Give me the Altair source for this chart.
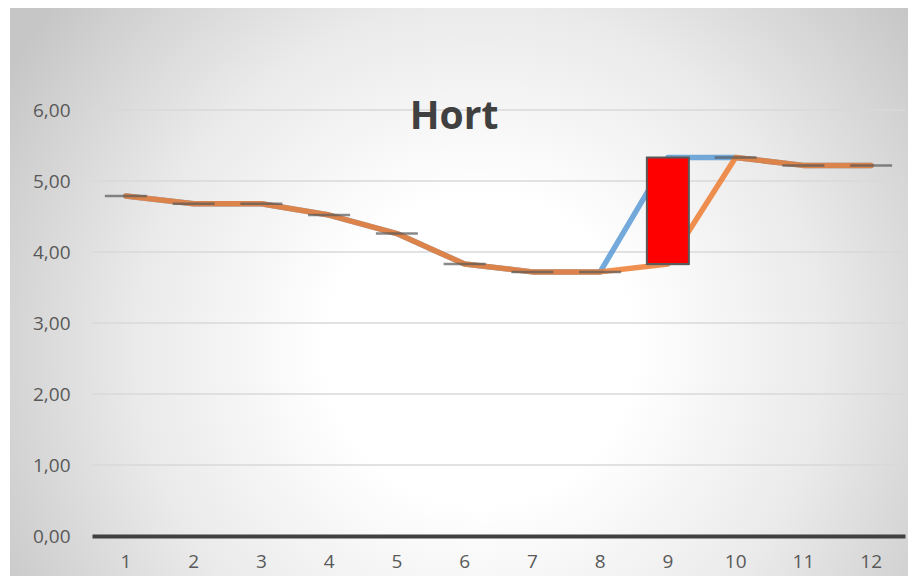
import altair as alt
import pandas as pd

# ---- data ----
months = [1, 2, 3, 4, 5, 6, 7, 8, 9, 10, 11, 12]
blue_series = [4.79, 4.68, 4.68, 4.52, 4.26, 3.83, 3.72, 3.72, 5.33, 5.33, 5.22, 5.22]
orange_series = [4.79, 4.68, 4.68, 4.52, 4.26, 3.83, 3.72, 3.72, 3.83, 5.33, 5.22, 5.22]
y_ticks = [0, 1, 2, 3, 4, 5, 6]
grid_values = [1, 2, 3, 4, 5, 6]
title_text = "Hort"

df = pd.DataFrame({"m": months, "open": blue_series, "close": orange_series})
grid_df = pd.DataFrame({"g": grid_values})

W, H = 813, 426
FONT = "Open Sans"

x_enc = alt.X("m:O", scale=alt.Scale(paddingInner=0, paddingOuter=0),
              axis=alt.Axis(title=None, labelAngle=0, ticks=False, grid=False,
                            domainColor="#404040", domainWidth=4, zindex=1,
                            labelFont=FONT, labelFontSize=19, labelColor="#595959",
                            labelPadding=16))
y_scale = alt.Scale(domain=[0, 6], nice=False, zero=True)
y_axis = alt.Axis(title=None, values=y_ticks, domain=False, ticks=False,
                  grid=False, zindex=1,
                  labelExpr="replace(format(datum.value, '.2f'), '.', ',')",
                  labelFont=FONT, labelFontSize=19, labelColor="#595959",
                  labelPadding=22)

bg = alt.Chart(pd.DataFrame({"a": [0]})).mark_rect(
    fill={
        "gradient": "radial",
        "x1": 0.514, "y1": 0.571, "r1": 0,
        "x2": 0.514, "y2": 0.571, "r2": 0.6,
        "stops": [
            {"offset": 0.0, "color": "#FFFFFF"},
            {"offset": 0.28, "color": "#FFFFFF"},
            {"offset": 0.63, "color": "#EAEAEA"},
            {"offset": 0.9, "color": "#D0D0D0"},
            {"offset": 1.0, "color": "#C6C6C6"},
        ],
    }
).encode(x=alt.value(-82), x2=alt.value(832), y=alt.value(-282), y2=alt.value(632))

grid = alt.Chart(grid_df).mark_rule(color="#D9D9D9", strokeWidth=1.5).encode(
    y=alt.Y("g:Q", scale=y_scale, axis=y_axis))

base = alt.Chart(df)

blue = base.mark_line(color="#5B9BD5", opacity=0.85, strokeWidth=5.5,
                      strokeCap="round", strokeJoin="round").encode(
    x=x_enc, y=alt.Y("open:Q", scale=y_scale, axis=y_axis))

orange = base.mark_line(color="#ED7D31", opacity=0.85, strokeWidth=5.5,
                        strokeCap="round", strokeJoin="round").encode(
    x=x_enc, y=alt.Y("close:Q", scale=y_scale, axis=y_axis))

ticks = base.mark_tick(color="#595959", size=42, thickness=2.5).encode(
    x=x_enc, y=alt.Y("close:Q", scale=y_scale, axis=y_axis))

box = base.transform_filter("datum.open != datum.close").mark_bar(
    size=42, color="#FF0000", stroke="#595959", strokeWidth=2).encode(
    x=x_enc, y=alt.Y("open:Q", scale=y_scale, axis=y_axis), y2="close:Q")

title = alt.Chart(pd.DataFrame({"t": [title_text]})).mark_text(
    font=FONT, fontSize=39, fontWeight="bold", color="#404040",
    align="center", baseline="alphabetic").encode(
    text="t:N", x=alt.value(362), y=alt.value(19))

chart = alt.layer(bg, grid, blue, orange, ticks, box, title).properties(
    width=W, height=H,
    autosize=alt.AutoSizeParams(type="none"),
    padding={"left": 84, "top": 102, "right": 3, "bottom": 40},
    background="#FFFFFF",
).configure_view(stroke=None)

chart.save("out.html", embed_options={"renderer": "svg", "actions": False})
